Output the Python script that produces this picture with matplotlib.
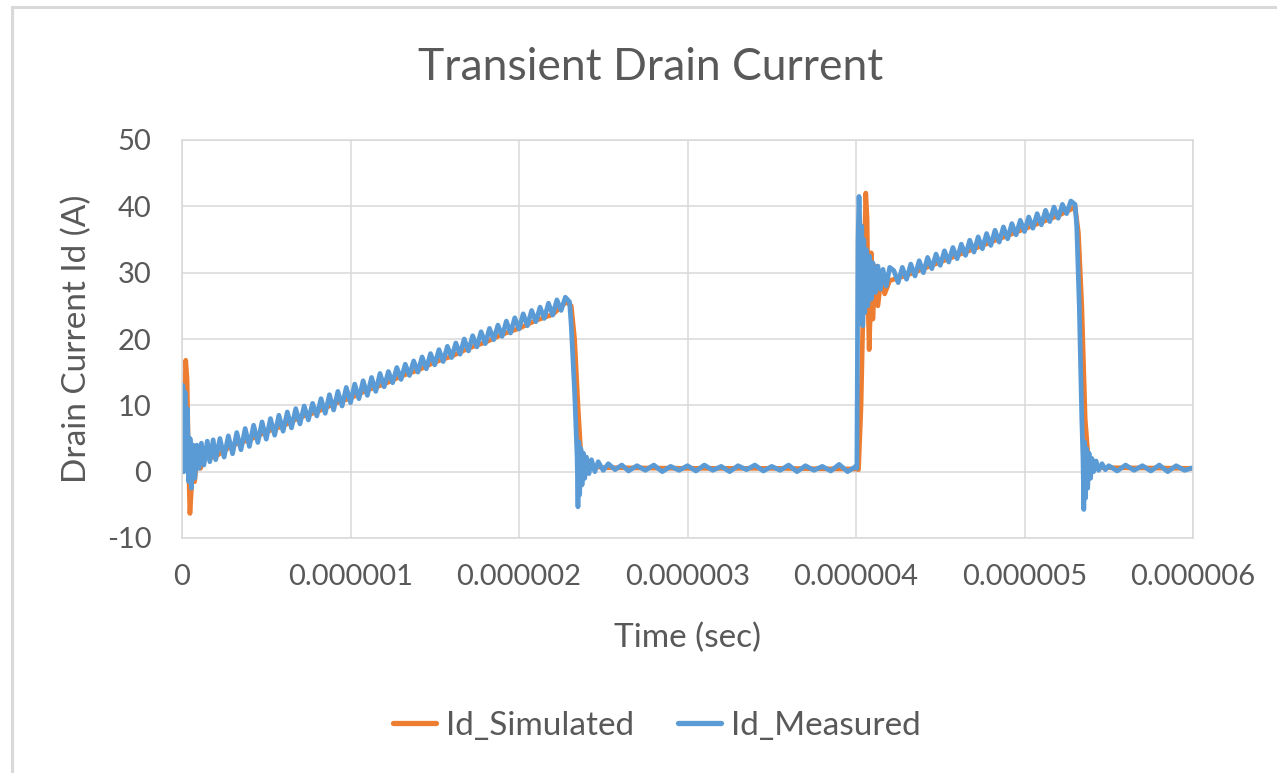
import matplotlib
matplotlib.use("Agg")
import matplotlib.pyplot as plt
from matplotlib.lines import Line2D
import numpy as np

# Id_Measured, time in microseconds, current in A
# irregular stretches: (time, value) lists
meas_start_t = [0.000, 0.005, 0.012, 0.018, 0.025, 0.032, 0.040, 0.048, 0.056, 0.066,
                0.076, 0.088, 0.100, 0.115, 0.130, 0.150, 0.165, 0.185]
meas_start_id = [0.5, 13.0, 0.0, 12.0, 1.0, 9.5, -1.5, 5.0, -2.5, 4.0,
                 -1.0, 4.0, 0.5, 4.3, 1.0, 4.6, 1.5, 4.8]

# sampled stretches: first sample time, sample step, values
ramp1_t0, ramp1_dt = 0.200, 0.025
ramp1_id = [1.8, 5.0, 2.2, 5.4, 2.7, 5.9, 3.3, 6.5, 3.8, 7.0,
            4.4, 7.5, 4.9, 8.0, 5.5, 8.5, 6.1, 9.0, 6.6, 9.5,
            7.2, 9.9, 7.8, 10.3, 8.4, 11.0, 8.8, 11.6, 9.3, 12.1,
            9.9, 12.7, 10.4, 13.2, 11.0, 13.7, 11.5, 14.2, 12.1, 14.8,
            12.8, 15.1, 13.4, 15.7, 13.9, 16.2, 14.5, 16.7, 15.0, 17.3,
            15.5, 17.8, 16.1, 18.4, 16.6, 18.9, 17.2, 19.4, 17.7, 20.0,
            18.2, 20.5, 18.8, 21.1, 19.3, 21.6, 19.9, 22.1, 20.4, 22.7,
            20.9, 23.2, 21.5, 23.8, 22.0, 24.3, 22.6, 24.8, 23.1, 25.4,
            23.6, 25.9, 24.3, 26.3, 25.6]

meas_fall1_t = [2.310, 2.330, 2.345, 2.350, 2.355, 2.360, 2.367, 2.374, 2.382, 2.390,
                2.400, 2.415, 2.430, 2.450, 2.470, 2.500, 2.530, 2.570, 2.610]
meas_fall1_id = [22.0, 12.0, 2.0, -5.3, 4.5, -3.5, 3.5, -2.0, 2.8, -1.0,
                 2.2, -0.3, 1.8, 0.0, 1.5, 0.2, 1.2, 0.3, 1.0]

flat_t0, flat_dt = 2.65, 0.05
flat_id = [0.1, 0.9, 0.2, 1.0, 0.0, 0.8, 0.2, 0.9, 0.1, 1.0,
           0.2, 0.8, 0.0, 0.9, 0.3, 1.0, 0.1, 0.8, 0.2, 1.0,
           0.0, 0.9, 0.2, 0.8, 0.1, 1.1, 0.0, 0.8]

meas_rise2_t = [4.005, 4.008, 4.012, 4.018, 4.022, 4.028, 4.034, 4.040, 4.046, 4.052,
                4.060, 4.070, 4.080, 4.090, 4.100, 4.115, 4.130, 4.145, 4.160, 4.180, 4.200]
meas_rise2_id = [0.5, 16.0, 35.0, 41.5, 38.0, 26.0, 37.0, 22.0, 35.0, 24.0,
                 33.5, 25.0, 32.5, 26.0, 31.5, 27.0, 31.0, 27.5, 30.5, 28.0, 30.8]

ramp2_t0, ramp2_dt = 4.225, 0.025
ramp2_id = [30.3, 28.5, 30.8, 29.0, 31.3, 29.5, 31.8, 30.0, 32.3, 30.6,
            32.8, 31.1, 33.3, 31.6, 33.8, 32.1, 34.3, 32.6, 34.9, 33.1,
            35.4, 33.6, 35.9, 34.1, 36.4, 34.6, 36.9, 35.1, 37.4, 35.7,
            37.9, 36.2, 38.4, 36.7, 38.9, 37.2, 39.4, 37.7, 39.9, 38.2,
            40.3, 38.9, 40.8, 40.3]

meas_fall2_t = [5.310, 5.325, 5.340, 5.347, 5.352, 5.357, 5.362, 5.368, 5.375, 5.383,
                5.392, 5.400, 5.410, 5.425, 5.440, 5.460, 5.480]
meas_fall2_id = [37.0, 25.0, 8.0, 2.0, -5.7, 4.5, -4.0, 3.5, -2.5, 2.8,
                 -1.0, 2.0, 0.0, 1.6, 0.2, 1.2, 0.3]

tail_t0, tail_dt = 5.50, 0.05
tail_id = [0.9, 0.1, 1.0, 0.2, 0.9, 0.1, 1.0, 0.0, 0.9, 0.2, 0.6]

# Id_Simulated
sim_t_us = [
    0.000, 0.010, 0.022, 0.030, 0.038, 0.047, 0.055, 0.065, 0.075, 0.090,
    0.110, 0.130, 0.160, 0.200, 0.300, 0.400, 0.500, 0.600, 0.700, 0.800,
    0.900, 1.000, 1.100, 1.200, 1.300, 1.400, 1.500, 1.600, 1.700, 1.800,
    1.900, 2.000, 2.100, 2.200, 2.280, 2.310, 2.330, 2.350, 2.365, 2.375,
    2.400, 2.500, 3.000, 3.500, 4.000, 4.015, 4.030, 4.045, 4.058, 4.066,
    4.072, 4.078, 4.085, 4.090, 4.100, 4.115, 4.130, 4.150, 4.170, 4.200,
    4.300, 4.400, 4.500, 4.600, 4.700, 4.800, 4.900, 5.000, 5.100, 5.200,
    5.280, 5.300, 5.320, 5.340, 5.360, 5.375, 5.390, 5.450, 6.000,
]
sim_id = [
    0.0, 5.0, 16.8, 14.0, 2.0, -6.3, -3.0, 2.0, -1.5, 2.5,
    0.5, 2.5, 2.0, 2.3, 4.0, 4.8, 6.0, 6.9, 8.2, 9.0,
    10.2, 11.1, 12.3, 13.2, 14.4, 15.3, 16.5, 17.4, 18.6, 19.5,
    20.7, 21.6, 22.8, 23.7, 25.6, 25.0, 20.0, 10.0, 3.5, 1.5,
    1.0, 0.6, 0.5, 0.5, 0.4, 0.3, 10.0, 28.0, 42.0, 38.0,
    25.0, 18.4, 24.0, 33.0, 23.0, 31.0, 25.0, 29.5, 26.8, 28.8,
    29.6, 30.6, 31.6, 32.6, 33.6, 34.6, 35.6, 36.6, 37.6, 38.6,
    39.6, 40.0, 36.0, 25.0, 8.0, 3.0, 1.2, 0.6, 0.5,
]

x_ticks = [0, 1e-6, 2e-6, 3e-6, 4e-6, 5e-6, 6e-6]
x_tick_labels = ["0", "0.000001", "0.000002", "0.000003", "0.000004", "0.000005", "0.000006"]
y_ticks = [-10, 0, 10, 20, 30, 40, 50]


def sampled(t0, dt, values):
    return [t0 + i * dt for i in range(len(values))]


meas_t_us = (meas_start_t + sampled(ramp1_t0, ramp1_dt, ramp1_id) + meas_fall1_t
             + sampled(flat_t0, flat_dt, flat_id) + meas_rise2_t
             + sampled(ramp2_t0, ramp2_dt, ramp2_id) + meas_fall2_t
             + sampled(tail_t0, tail_dt, tail_id))
meas_id = (meas_start_id + ramp1_id + meas_fall1_id + flat_id + meas_rise2_id
           + ramp2_id + meas_fall2_id + tail_id)

TEXT = "#595959"
GRID = "#D9D9D9"
plt.rcParams['font.family'] = ['Lato', 'DejaVu Sans']
plt.rcParams['axes.unicode_minus'] = False

fig = plt.figure(figsize=(12.77, 7.73), dpi=100)
ax = fig.add_axes([182 / 1277, 1 - 538 / 773, (1193 - 182) / 1277, (538 - 140) / 773])

ax.plot(np.array(sim_t_us) * 1e-6, sim_id, color="#ED7D31", lw=3.4,
        solid_joinstyle="round", label="Id_Simulated")
ax.plot(np.array(meas_t_us) * 1e-6, meas_id, color="#5B9BD5", lw=3.4,
        solid_joinstyle="round", label="Id_Measured")

ax.set_xlim(0, 6e-6)
ax.set_ylim(-10, 50)
ax.set_xticks(x_ticks)
ax.set_xticklabels(x_tick_labels)
ax.set_yticks(y_ticks)
ax.grid(True, color=GRID, lw=1.1)
ax.set_axisbelow(True)
for s in ax.spines.values():
    s.set_color(GRID)
    s.set_linewidth(1.1)
ax.tick_params(length=0, labelsize=21, labelcolor=TEXT)
ax.tick_params(axis="x", pad=19)
ax.tick_params(axis="y", pad=22)

fig.text(651 / 1277, 1 - 68 / 773, "Transient Drain Current", fontsize=32,
         color=TEXT, ha="center", va="center")
ax.set_xlabel("Time (sec)", fontsize=24, color=TEXT, labelpad=23)
ax.set_ylabel("Drain Current Id (A)", fontsize=24, color=TEXT)
ax.yaxis.set_label_coords(-0.089, 0.5)

leg = fig.legend(loc="center", bbox_to_anchor=(657 / 1277, 1 - 726 / 773), ncol=2,
                 frameon=False, fontsize=24, handlelength=1.3,
                 handletextpad=0.3, columnspacing=1.3)
for line in leg.get_lines():
    line.set_linewidth(3.8)
    line.set_solid_capstyle("round")
for txt in leg.get_texts():
    txt.set_color(TEXT)

# chart area border (cut off at right and bottom in the reference)
fig.add_artist(Line2D([12 / 1277, 12 / 1277], [0, 1 - 7 / 773], color=GRID, lw=2.2))
fig.add_artist(Line2D([12 / 1277, 1], [1 - 7 / 773, 1 - 7 / 773], color=GRID, lw=2.2))

fig.savefig("out.png", dpi=100)
